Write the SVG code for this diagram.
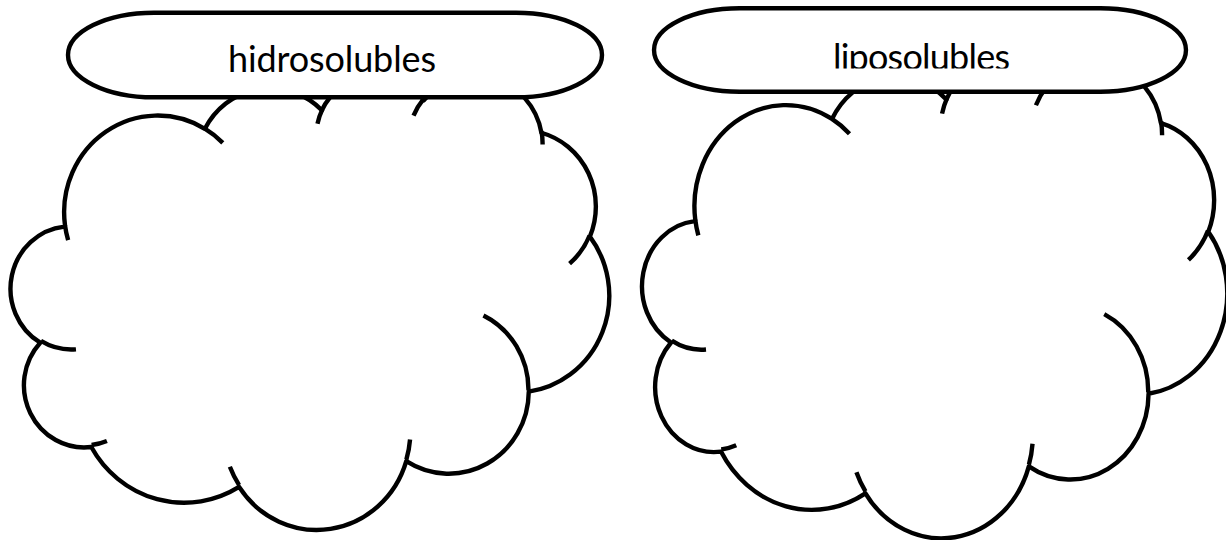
<svg xmlns="http://www.w3.org/2000/svg" width="1226" height="540" viewBox="0 0 1226 540">
  <style>
    .cloud { fill: #ffffff; stroke: #000000; stroke-width: 4.4; stroke-linejoin: round; vector-effect: non-scaling-stroke; }
    .cloud-inner { fill: none; stroke: #000000; stroke-width: 4.4; vector-effect: non-scaling-stroke; }
    .term { fill: #ffffff; stroke: #000000; stroke-width: 4.4; }
    .lbl { font-family: Lato, "Open Sans", "Liberation Sans", sans-serif; font-size: 36px; fill: #000000; text-anchor: middle; }
  </style>
  <defs>
    <clipPath id="clipLipo">
      <rect x="654" y="0" width="532" height="68.5"/>
    </clipPath>
  </defs>

  <rect x="0" y="0" width="1226" height="540" fill="#ffffff"/>

  <g id="cloud-hidrosolubles" transform="matrix(0.013843,0,0,0.010514,11,74.1)">
    <path class="cloud" d="M3900,14370 A6753,9190 0 0 1 14005,5202 A5333,7267 0 0 1 22457,3434 A4365,5945 0 0 1 29834,2483 A4857,6595 0 0 1 38318,5579 A5333,7273 0 0 1 41818,15463 A6775,9220 0 0 1 37403,30205 A5785,7867 0 0 1 28554,36815 A6752,9215 0 0 1 16478,39265 A7720,10543 0 0 1 5801,35470 A4360,5918 0 0 1 2112,25545 A4345,5945 0 0 1 3862,14502 Z"/>
    <path class="cloud-inner" d="M4693,26177 A4345,5945 0 0 1 2159,25379 M6928,34899 A4360,5918 0 0 1 5819,35281 M16478,39090 A6752,9215 0 0 1 15811,37351 M28827,34751 A6752,9215 0 0 1 28560,36660 M34129,22954 A5785,7867 0 0 1 37381,30090 M41798,15354 A5333,7273 0 0 1 40350,18030 M38324,5426 A4857,6595 0 0 1 38401,6690 M29078,3952 A4857,6595 0 0 1 29820,2339 M22141,4720 A4365,5945 0 0 1 22500,3330 M14000,5192 A6753,9190 0 0 1 15299,6538 M4127,15789 A6753,9190 0 0 1 3900,14370"/>
  </g>

  <g id="cloud-liposolubles" transform="matrix(0.01353,0,0,0.01099,642.5,61.8)">
    <path class="cloud" d="M3900,14370 A6753,9190 0 0 1 14005,5202 A5333,7267 0 0 1 22457,3434 A4365,5945 0 0 1 29834,2483 A4857,6595 0 0 1 38318,5579 A5333,7273 0 0 1 41818,15463 A6775,9220 0 0 1 37403,30205 A5785,7867 0 0 1 28554,36815 A6752,9215 0 0 1 16478,39265 A7720,10543 0 0 1 5801,35470 A4360,5918 0 0 1 2112,25545 A4345,5945 0 0 1 3862,14502 Z"/>
    <path class="cloud-inner" d="M4693,26177 A4345,5945 0 0 1 2159,25379 M6928,34899 A4360,5918 0 0 1 5819,35281 M16478,39090 A6752,9215 0 0 1 15811,37351 M28827,34751 A6752,9215 0 0 1 28560,36660 M34129,22954 A5785,7867 0 0 1 37381,30090 M41798,15354 A5333,7273 0 0 1 40350,18030 M38324,5426 A4857,6595 0 0 1 38401,6690 M29078,3952 A4857,6595 0 0 1 29820,2339 M22141,4720 A4365,5945 0 0 1 22500,3330 M14000,5192 A6753,9190 0 0 1 15299,6538 M4127,15789 A6753,9190 0 0 1 3900,14370"/>
  </g>

  <g id="label-hidrosolubles">
    <path class="term" d="M154,12.7 H516 A86,42.3 0 0 1 516,97.3 H154 A86,42.3 0 0 1 154,12.7 Z"/>
    <text class="lbl" x="332" y="72" textLength="208">hidrosolubles</text>
  </g>

  <g id="label-liposolubles">
    <path class="term" d="M739.6,8.3 H1100.4 A85.6,41.7 0 0 1 1100.4,91.7 H739.6 A85.6,41.7 0 0 1 739.6,8.3 Z"/>
    <text class="lbl" x="921.5" y="69.5" textLength="177" clip-path="url(#clipLipo)">liposolubles</text>
  </g>
</svg>
